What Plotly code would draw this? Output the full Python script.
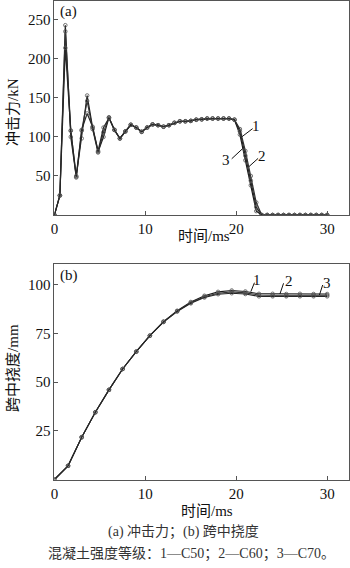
import plotly.graph_objects as go

W, H = 350, 568

# ---------- (a) impact force ----------
t_force = [round(0.6 * i, 1) for i in range(51)]
force_1 = [0, 25, 243, 100, 49, 98, 153, 112, 81, 100, 125, 109, 98, 107, 115.5, 112, 106.5, 112,
           116, 115, 113, 115, 118, 120, 120, 120.5, 122, 122.5, 123.5, 123.5, 123.5, 123.5, 123.5, 122,
           103, 70, 38, 5, 0, 0, 0, 0, 0, 0, 0, 0, 0, 0, 0, 0, 0]
force_2 = [0, 25, 235, 108, 48, 108, 146, 110, 80, 106, 125, 109, 98, 107, 115.5, 112, 106.5, 112,
           116, 115, 113, 115, 118, 120, 120, 120.5, 122, 122.5, 123.5, 123.5, 123.5, 123.5, 123.5, 122,
           110, 82, 50, 16, 0, 0, 0, 0, 0, 0, 0, 0, 0, 0, 0, 0, 0]
force_3 = [0, 25, 214, 108, 50, 109, 130, 113, 82, 112, 124, 109, 98, 107, 115.5, 112, 106.5, 112,
           116, 115, 113, 115, 118, 120, 120, 120.5, 122, 122.5, 123.5, 123.5, 123.5, 123.5, 123.5, 122,
           107, 76, 44, 10, 0, 0, 0, 0, 0, 0, 0, 0, 0, 0, 0, 0, 0]

# ---------- (b) mid-span deflection ----------
t_defl = [1.5 * i for i in range(21)]
defl_1 = [0, 7, 21.7, 34.5, 46, 56.7, 65.6, 73.8, 81, 86.6, 91.1, 94.3, 96.3, 97.0, 96.5, 95.3, 95.3, 95.2, 95.3, 95.2, 95.2]
defl_2 = [0, 7, 21.7, 34.5, 46, 56.7, 65.6, 73.8, 81, 86.4, 90.7, 93.8, 95.6, 96.3, 95.8, 94.7, 94.6, 94.5, 94.6, 94.6, 94.6]
defl_3 = [0, 7, 21.7, 34.5, 46, 56.7, 65.6, 73.8, 80.8, 86.2, 90.4, 93.4, 95.1, 95.6, 95.2, 94.0, 94.0, 94.0, 94.0, 94.0, 94.0]

series_names = ["1", "2", "3"]
force_series = [force_1, force_2, force_3]
defl_series = [defl_1, defl_2, defl_3]

x_ticks = [0, 10, 20, 30]
force_ticks = [50, 100, 150, 200, 250]
defl_ticks = [25, 50, 75, 100]

SERIF = "'Liberation Serif', 'Noto Sans CJK SC', serif"

fig = go.Figure()

line_colors = ["#1a1a1a", "#333333", "#262626"]
for name, ys, c in zip(series_names, force_series, line_colors):
    fig.add_trace(go.Scatter(
        x=t_force, y=ys, mode="lines+markers", name=name, xaxis="x", yaxis="y",
        line=dict(color=c, width=1.2),
        marker=dict(symbol="circle-open", size=3.6, color="#555", line=dict(width=0.8)),
        showlegend=False))

for name, ys, c in zip(series_names, defl_series, line_colors):
    fig.add_trace(go.Scatter(
        x=t_defl, y=ys, mode="lines+markers", name=name, xaxis="x2", yaxis="y2",
        line=dict(color=c, width=1.1),
        marker=dict(symbol="circle-open", size=3.6, color="#555", line=dict(width=0.8)),
        showlegend=False))

def px_x(p):
    return p / W

def px_y(p):
    return 1 - p / H

axis_common = dict(
    showline=True, mirror=True, linecolor="#555", linewidth=1,
    ticks="inside", ticklen=4, tickcolor="#555", showgrid=False, zeroline=False,
    tickfont=dict(family=SERIF, size=15, color="#111"),
)

fig.update_layout(
    width=W, height=H, margin=dict(l=0, r=0, t=0, b=0),
    paper_bgcolor="white", plot_bgcolor="white",
    font=dict(family=SERIF),
    xaxis=dict(domain=[px_x(51), px_x(349)], range=[0, 32.4], tickvals=x_ticks,
               anchor="y", **axis_common),
    yaxis=dict(domain=[px_y(215), px_y(1)], range=[0, 274], tickvals=force_ticks,
               anchor="x", **axis_common),
    xaxis2=dict(domain=[px_x(51), px_x(349)], range=[0, 32.4], tickvals=x_ticks,
                anchor="y2", **axis_common),
    yaxis2=dict(domain=[px_y(479.5), px_y(264)], range=[0, 110.6], tickvals=defl_ticks,
                anchor="x2", **axis_common),
)

annots = []
# panel labels
annots.append(dict(text="(a)", xref="paper", yref="paper", x=px_x(55), y=px_y(12),
                   xanchor="left", yanchor="middle", showarrow=False,
                   font=dict(family=SERIF, size=15, color="#111")))
annots.append(dict(text="(b)", xref="paper", yref="paper", x=px_x(55), y=px_y(275),
                   xanchor="left", yanchor="middle", showarrow=False,
                   font=dict(family=SERIF, size=15, color="#111")))
# axis titles
annots.append(dict(text="时间/ms", xref="paper", yref="paper", x=px_x(202), y=px_y(236),
                   xanchor="center", yanchor="middle", showarrow=False,
                   font=dict(family=SERIF, size=15, color="#111")))
annots.append(dict(text="时间/ms", xref="paper", yref="paper", x=px_x(205), y=px_y(511),
                   xanchor="center", yanchor="middle", showarrow=False,
                   font=dict(family=SERIF, size=15, color="#111")))
annots.append(dict(text="冲击力/kN", xref="paper", yref="paper", x=px_x(9), y=px_y(112),
                   xanchor="center", yanchor="middle", showarrow=False, textangle=-90,
                   font=dict(family=SERIF, size=15, color="#111")))
annots.append(dict(text="跨中挠度/mm", xref="paper", yref="paper", x=px_x(9), y=px_y(368),
                   xanchor="center", yanchor="middle", showarrow=False, textangle=-90,
                   font=dict(family=SERIF, size=15, color="#111")))
# captions
annots.append(dict(text="(a) 冲击力；(b) 跨中挠度", xref="paper", yref="paper", x=px_x(182), y=px_y(532),
                   xanchor="center", yanchor="middle", showarrow=False,
                   font=dict(family=SERIF, size=14, color="#333")))
annots.append(dict(text="混凝土强度等级：1—C50；2—C60；3—C70。", xref="paper", yref="paper",
                   x=px_x(190), y=px_y(553), xanchor="center", yanchor="middle", showarrow=False,
                   font=dict(family=SERIF, size=14, color="#333")))

# curve labels with leader lines (data coordinates)
force_labels = [("1", 22.2, 114, 21.8, 110.6, 20.6, 100),
                ("3", 18.9, 70, 19.5, 72, 20.7, 85),
                ("2", 22.8, 76, 22.4, 72.5, 21.4, 62)]
for txt, tx, ty, x0, y0, x1, y1 in force_labels:
    annots.append(dict(text=txt, xref="x", yref="y", x=tx, y=ty, showarrow=False,
                       font=dict(family=SERIF, size=15, color="#111")))
    fig.add_shape(type="line", xref="x", yref="y", x0=x0, y0=y0, x1=x1, y1=y1,
                  line=dict(color="#111", width=1))

defl_labels = [("1", 22.3, 102.4, 22.0, 101, 21.6, 96.4),
               ("2", 25.8, 102, 25.2, 100.7, 24.8, 95.2),
               ("3", 30.0, 101, 29.5, 99.8, 29.15, 94.7)]
for txt, tx, ty, x0, y0, x1, y1 in defl_labels:
    annots.append(dict(text=txt, xref="x2", yref="y2", x=tx, y=ty, showarrow=False,
                       font=dict(family=SERIF, size=15, color="#111")))
    fig.add_shape(type="line", xref="x2", yref="y2", x0=x0, y0=y0, x1=x1, y1=y1,
                  line=dict(color="#111", width=1))

fig.update_layout(annotations=annots)

fig.write_html("out.html")
